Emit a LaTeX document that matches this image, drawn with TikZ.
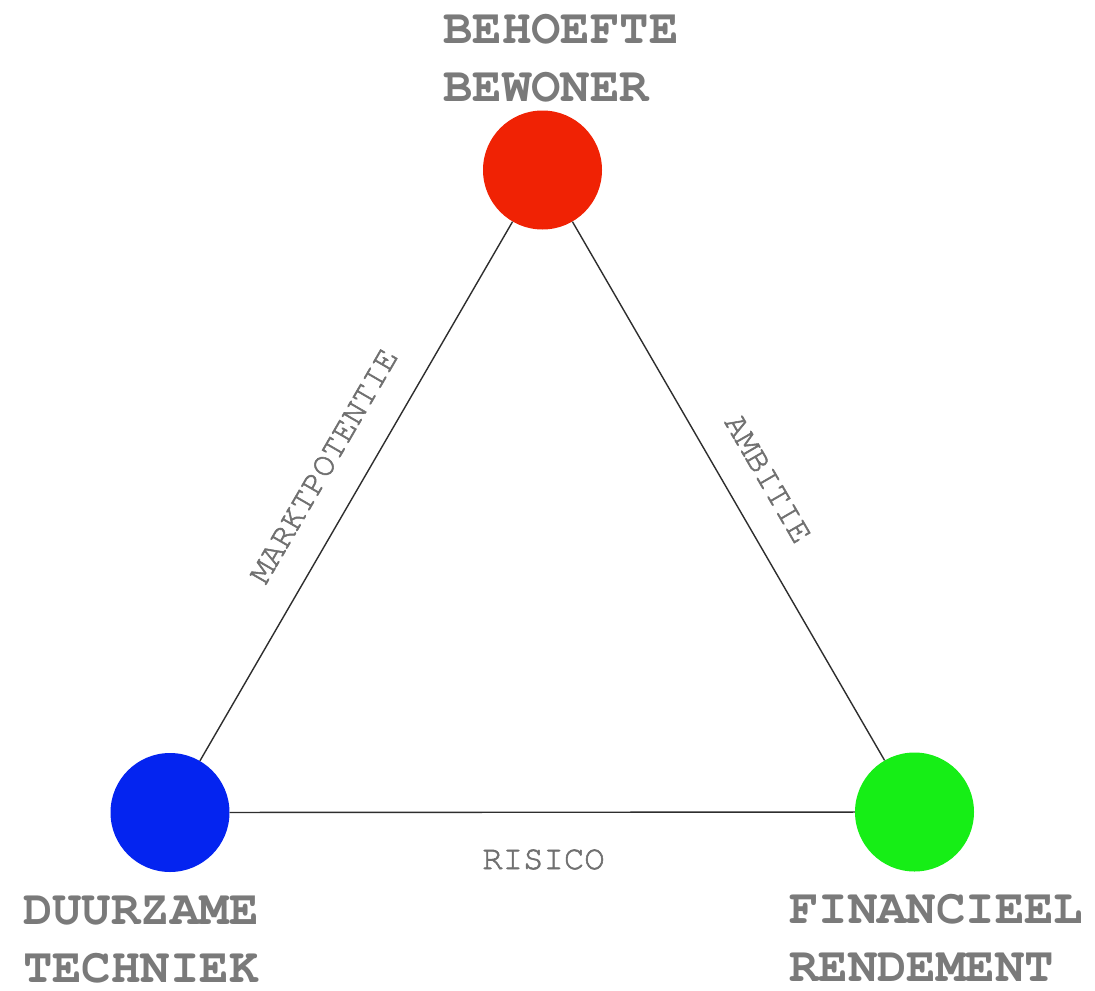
\documentclass[tikz,border=0pt]{standalone}
\usepackage{fontspec}
\newfontfamily\cursorfont{texgyrecursor}[Extension=.otf,UprightFont=*-regular,BoldFont=*-bold]
\newfontfamily\cursormedium{texgyrecursor-regular.otf}[FakeBold=1.6]
\begin{document}
\begin{tikzpicture}[x=1bp,y=-1bp,
  dot/.style={circle,minimum size=119bp,inner sep=0pt},
  corner/.style={font=\cursorfont\bfseries\fontsize{49bp}{58bp}\selectfont,text=black!52,
    align=left,inner sep=0pt,anchor=base west},
  edgelabel/.style={font=\cursormedium\fontsize{34bp}{40bp}\selectfont,text=black!56,inner sep=0pt},
  link/.style={draw=black!82,line width=1.4bp}]
\useasboundingbox (0,0) rectangle (1095,991);
\fill[white] (0,0) rectangle (1095,991);

% the three poles
\node[dot,fill={rgb,255:red,240;green,34;blue,4}] (r) at (542.5,170) {};
\node[dot,fill={rgb,255:red,4;green,36;blue,240}] (b) at (170,812.5) {};
\node[dot,fill={rgb,255:red,22;green,238;blue,22}] (g) at (914.5,812) {};

% sides of the triangle
\draw[link] (b) -- (r);
\draw[link] (r) -- (g);
\draw[link] (b) -- (g);

% side labels
\node[edgelabel,rotate=59.9] (lm) at (324,466) {MARKTPOTENTIE};
\node[edgelabel,rotate=-59.9] (la) at (768,479) {AMBITIE};
\node[edgelabel] (lr) at (543.5,859.5) {RISICO};

% pole labels (anchored at the baseline of the second line)
\node[corner] (tr) at (443,101) {BEHOEFTE\\BEWONER};
\node[corner] (tb) at (23,982) {DUURZAME\\TECHNIEK};
\node[corner] (tg) at (789,981) {FINANCIEEL\\RENDEMENT};
\end{tikzpicture}
\end{document}
